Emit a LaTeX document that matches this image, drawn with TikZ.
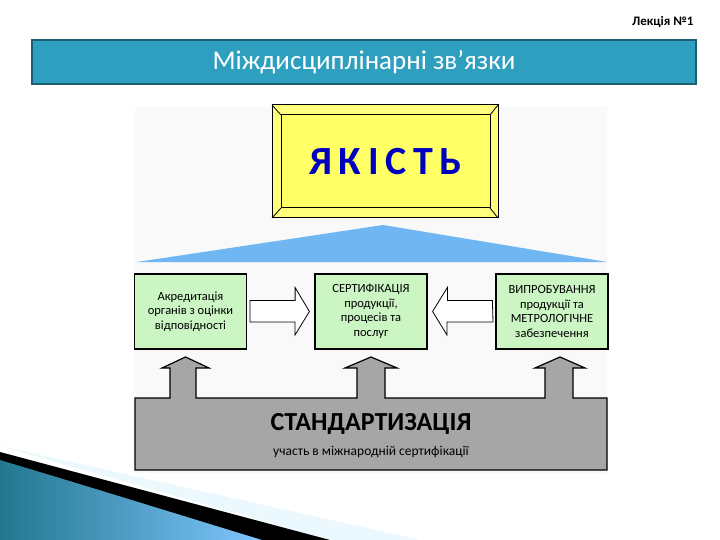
\documentclass[tikz,border=0pt]{standalone}
\usepackage{fontspec}
\setmainfont{Carlito}
\begin{document}
\begin{tikzpicture}[x=1pt,y=-1pt,
  gbox/.style={draw=black,line width=1.2pt,fill=gfill,align=center,font=\fontsize{12.5}{14.5}\selectfont,minimum width=112pt,minimum height=75pt,inner sep=1pt},
  hollow/.style={draw=black,line width=0.8pt,fill=white}]
\definecolor{gfill}{HTML}{CCF5C4}
\definecolor{teal1}{HTML}{2E9FBF}
\definecolor{yel}{HTML}{FFFF66}
\definecolor{tri}{HTML}{6FB6F2}
\useasboundingbox (0,0) rectangle (720,540);
\fill[white] (0,0) rectangle (720,540);
% bottom-left swoosh
\fill[cyan!8!white] (0,446) -- (420,540) -- (330,540) -- cycle;
\fill[black] (0,452) -- (330,540) -- (255,540) -- (0,462) -- cycle;
\shade[left color=teal1!75!black, right color=cyan!55!blue!50!white] (0,460) .. controls (100,490) and (180,515) .. (262,540) -- (0,540) -- cycle;
% header
\node[font=\bfseries\fontsize{13}{15}\selectfont,anchor=east] (lek) at (697,22) {Лекція №1};
\node[draw=teal1!60!black,line width=1.5pt,fill=teal1,minimum width=664pt,minimum height=44pt,text=white,font=\fontsize{27}{30}\selectfont] (title) at (364,62) {Міждисциплінарні зв’язки};
% picture background
\fill[gray!5] (135,107) rectangle (607,473);
% yellow bevel box
\draw[line width=1pt,fill=yel!85!white] (272,105) rectangle (498,218);
\draw[line width=0.8pt] (272,105)--(281,115) (498,105)--(490,115) (272,218)--(281,208) (498,218)--(490,208);
\node[draw=black,line width=1pt,fill=yel,minimum width=209pt,minimum height=93pt,text=blue!75!black,font=\bfseries\fontsize{40}{44}\selectfont] (q) at (385.5,161.5) {Я\,К\,І\,С\,Т\,Ь};
% triangle
\fill[tri] (137,262) -- (383,225) -- (607,262) -- cycle;
% green boxes
\node[gbox] (a) at (190.5,311.5) {Акредитація\\органів з оцінки\\відповідності};
\node[gbox] (c) at (371,311.5) {СЕРТИФІКАЦІЯ\\продукції,\\процесів та\\послуг};
\node[gbox] (v) at (552,311.5) {ВИПРОБУВАННЯ\\продукції та\\МЕТРОЛОГІЧНЕ\\забезпечення};
% hollow arrows
\draw[hollow] (a.east)++(3,-11) coordinate (a1) -- ++(45,0) -- ++(0,-13) -- ([xshift=-5pt]c.west) -- (295,335) -- (295,322) -- (250,322) -- cycle;
\draw[hollow] ([xshift=-3pt]v.west)++(0,-11) coordinate (v1) -- ++(-45,0) -- ++(0,-13) -- ([xshift=5pt]c.east) -- (447,335) -- (447,322) -- (493,322) -- cycle;
% grey base with up arrows
\draw[line width=1.2pt,fill=gray!70] (135,398) -- (170,398) -- (170,368) -- (162,368) -- (185.5,357) -- (209,368) -- (196,368) -- (196,398)
 -- (357,398) -- (357,368) -- (345,368) -- (371,357) -- (397,368) -- (385,368) -- (385,398)
 -- (545,398) -- (545,368) -- (535,368) -- (560,357) -- (585,368) -- (573,368) -- (573,398)
 -- (607,398) -- (607,470) -- (135,470) -- cycle;
\node[font=\bfseries\fontsize{26}{29}\selectfont] (s) at (371,424) {СТАНДАРТИЗАЦІЯ};
\node[font=\fontsize{13.5}{15}\selectfont] (s2) at (371,452) {участь в міжнародній сертифікації};
\end{tikzpicture}
\end{document}
